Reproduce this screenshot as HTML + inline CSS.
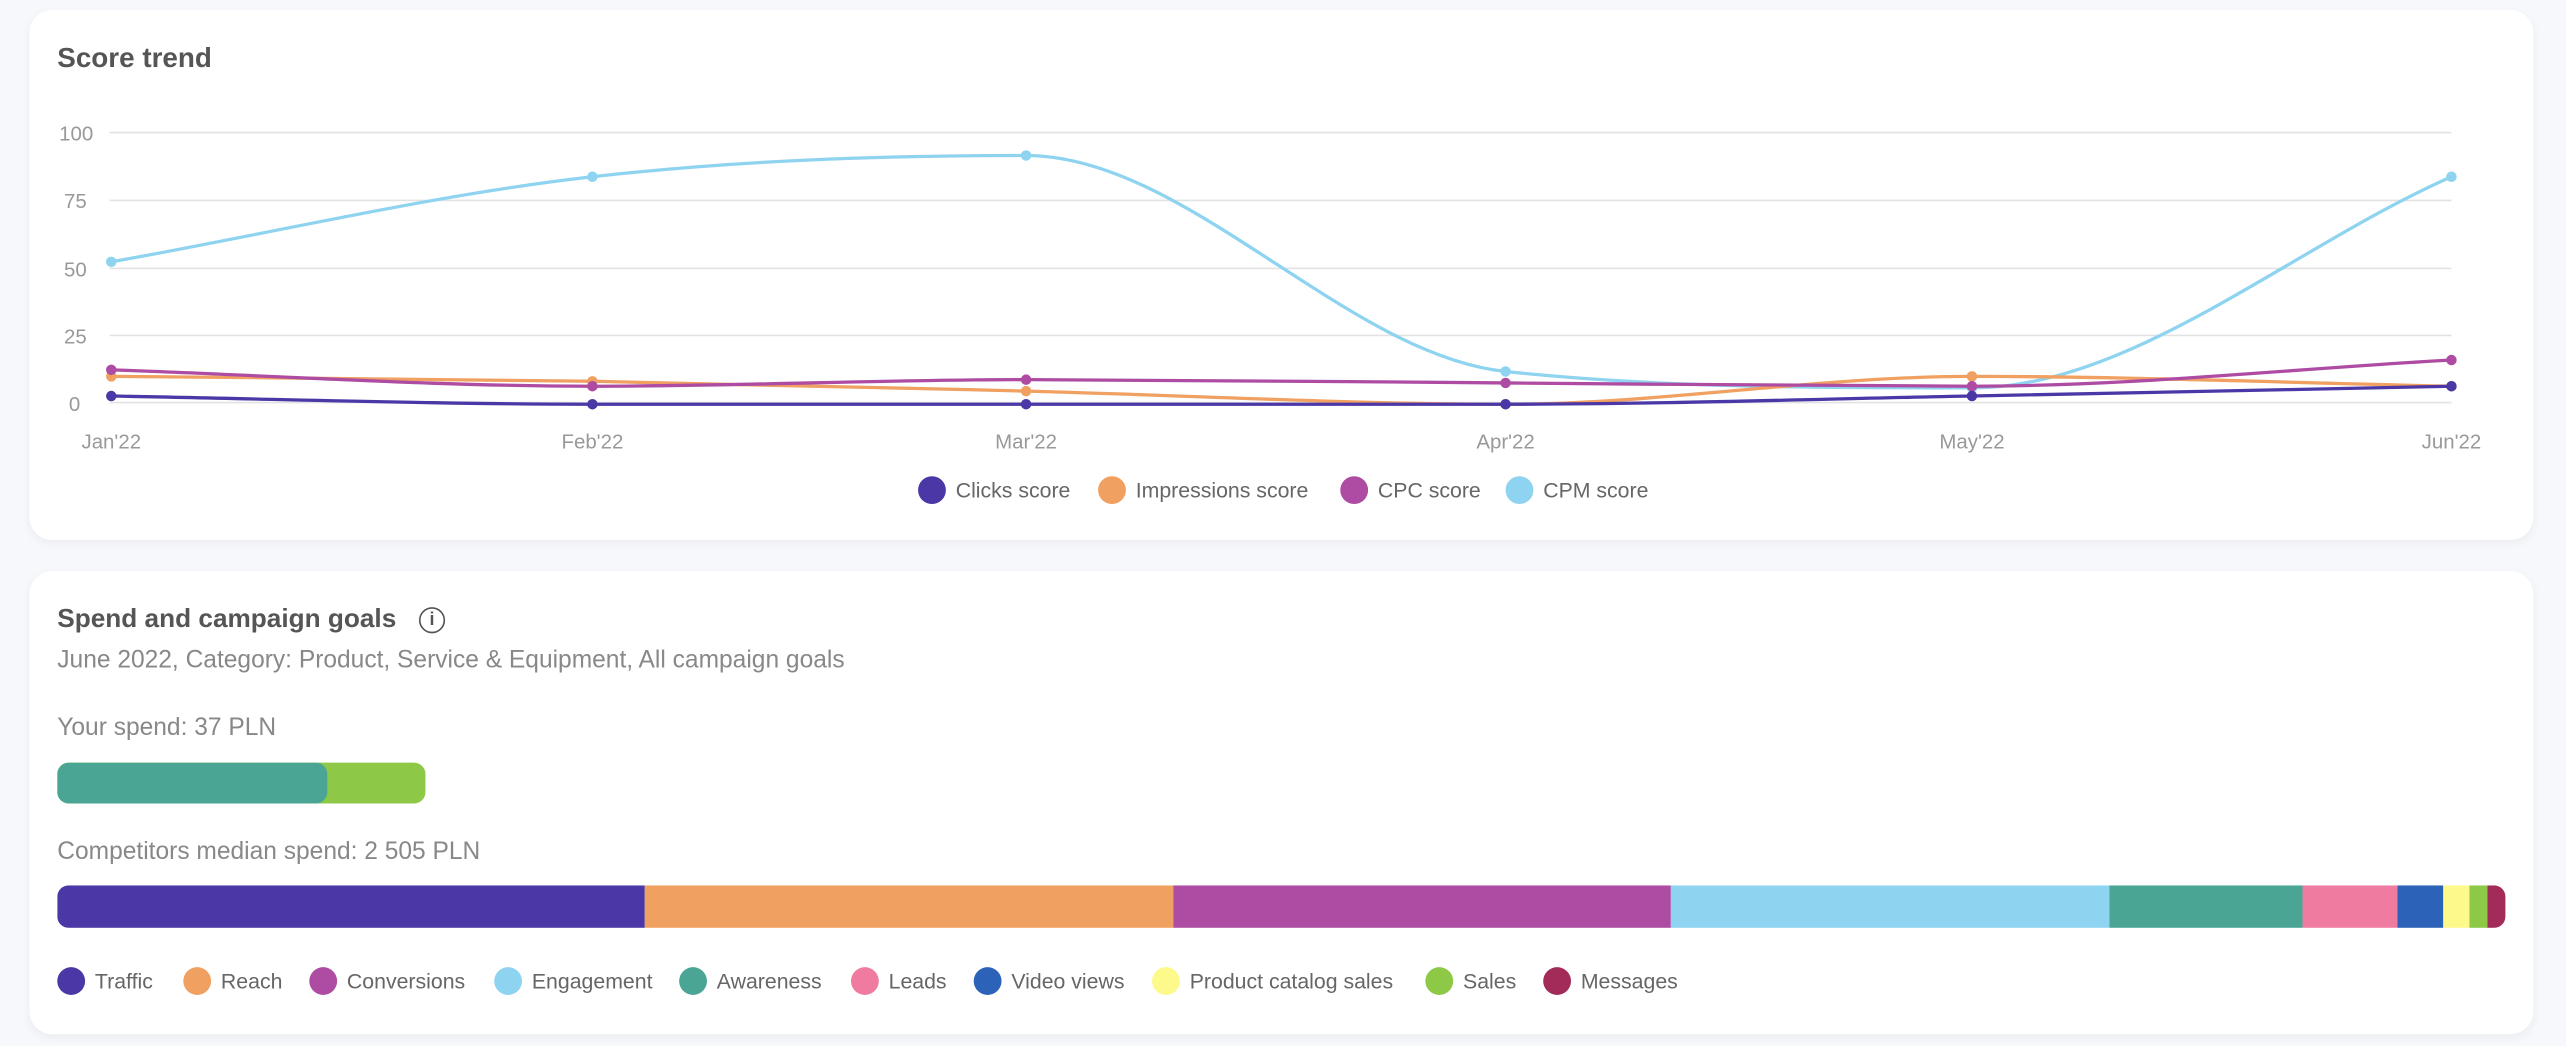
<!DOCTYPE html>
<html><head><meta charset="utf-8"><style>
html,body{margin:0;padding:0;background:#f6f8fc;overflow:hidden}
#w{width:1568px;height:640px;transform:scale(1.63648);transform-origin:0 0;position:relative;font-family:"Liberation Sans",sans-serif}
.card{position:absolute;left:18px;width:1530px;background:#fff;border-radius:14px;box-shadow:0 2px 6px rgba(0,0,0,0.05)}
.t{position:absolute;white-space:nowrap}
.d{position:absolute;width:17px;height:17px;border-radius:50%}
.l{position:absolute;font-size:13px;color:#666;white-space:nowrap}
</style></head><body><div id="w">
<div class="card" style="top:6px;height:324px"></div>
<div class="card" style="top:349px;height:283px"></div>
<div class="t" style="left:35px;top:26px;font-size:17px;color:#555;font-weight:bold">Score trend</div>
<svg style="position:absolute;left:0;top:0" width="1568" height="330" id="sv">
<g stroke="#e2e2e2" stroke-width="1">
<line x1="67" x2="1498" y1="81" y2="81"/><line x1="67" x2="1498" y1="122.5" y2="122.5"/><line x1="67" x2="1498" y1="164" y2="164"/><line x1="67" x2="1498" y1="205" y2="205"/><line x1="67" x2="1498" y1="246" y2="246"/></g>
<g font-size="12.5" fill="#999" text-anchor="end" font-family="Liberation Sans">
<text x="57" y="86">100</text><text x="53" y="127">75</text><text x="53" y="169">50</text><text x="53" y="210">25</text><text x="49" y="251">0</text></g>
<g font-size="12.5" fill="#999" text-anchor="middle" font-family="Liberation Sans">
<text x="68" y="274">Jan'22</text><text x="362" y="274">Feb'22</text><text x="627" y="274">Mar'22</text><text x="920" y="274">Apr'22</text><text x="1205" y="274">May'22</text><text x="1498" y="274">Jun'22</text></g>
</svg>
<div class="d" style="left:561px;top:291px;background:#4b38a6"></div><div class="l" style="left:584px;top:292px">Clicks score</div>
<div class="d" style="left:671px;top:291px;background:#f0a060"></div><div class="l" style="left:694px;top:292px">Impressions score</div>
<div class="d" style="left:819px;top:291px;background:#ad4ca2"></div><div class="l" style="left:842px;top:292px">CPC score</div>
<div class="d" style="left:920px;top:291px;background:#8ed3f0"></div><div class="l" style="left:943px;top:292px">CPM score</div>

<div class="t" style="left:35px;top:370px;font-size:16px;color:#555;font-weight:bold">Spend and campaign goals</div>
<div style="position:absolute;left:256px;top:371px;width:14px;height:14px;border:1.7px solid #555;border-radius:50%;font-size:11px;line-height:14px;text-align:center;color:#555;font-weight:bold">i</div>
<div class="t" style="left:35px;top:395px;font-size:15px;color:#888">June 2022, Category: Product, Service &amp; Equipment, All campaign goals</div>
<div class="t" style="left:35px;top:436px;font-size:15px;color:#888">Your spend: 37 PLN</div>
<div style="position:absolute;left:35px;top:466px;width:225px;height:25px;border-radius:7px;overflow:hidden;background:#8dc947"><div style="width:165px;height:25px;background:#4aa595;border-radius:0 7px 7px 0"></div></div>
<div class="t" style="left:35px;top:512px;font-size:15px;color:#888">Competitors median spend: 2 505 PLN</div>
<div style="position:absolute;left:35px;top:541px;width:1496px;height:26px;border-radius:7px;overflow:hidden;display:flex">
<div style="width:359px;background:#4b38a6"></div><div style="width:323px;background:#f0a060"></div><div style="width:304px;background:#ad4ca2"></div><div style="width:268px;background:#8ed3f0"></div><div style="width:118px;background:#4aa595"></div><div style="width:58px;background:#ef7ca0"></div><div style="width:28px;background:#2c62b8"></div><div style="width:16px;background:#fdf98a"></div><div style="width:11px;background:#8dc947"></div><div style="width:11px;background:#a32b5a"></div></div>
<div class="d" style="left:35px;top:591px;background:#4b38a6"></div><div class="l" style="left:58px;top:592px">Traffic</div>
<div class="d" style="left:112px;top:591px;background:#f0a060"></div><div class="l" style="left:135px;top:592px">Reach</div>
<div class="d" style="left:189px;top:591px;background:#ad4ca2"></div><div class="l" style="left:212px;top:592px">Conversions</div>
<div class="d" style="left:302px;top:591px;background:#8ed3f0"></div><div class="l" style="left:325px;top:592px">Engagement</div>
<div class="d" style="left:415px;top:591px;background:#4aa595"></div><div class="l" style="left:438px;top:592px">Awareness</div>
<div class="d" style="left:520px;top:591px;background:#ef7ca0"></div><div class="l" style="left:543px;top:592px">Leads</div>
<div class="d" style="left:595px;top:591px;background:#2c62b8"></div><div class="l" style="left:618px;top:592px">Video views</div>
<div class="d" style="left:704px;top:591px;background:#fdf98a"></div><div class="l" style="left:727px;top:592px">Product catalog sales</div>
<div class="d" style="left:871px;top:591px;background:#8dc947"></div><div class="l" style="left:894px;top:592px">Sales</div>
<div class="d" style="left:943px;top:591px;background:#a32b5a"></div><div class="l" style="left:966px;top:592px">Messages</div>
</div>
<script>
var X=[68,362,627,920,1205,1498];
var S=[["#8ed3f0",[160,108,95,227,237,108]],["#f0a060",[230,233,239,247,230,236]],["#ad4ca2",[226,236,232,234,236,220]],["#4b38a6",[242,247,247,247,242,236]]];
function mono(xs,ys){var n=xs.length,d=[],m=[];for(var i=0;i<n-1;i++)d.push((ys[i+1]-ys[i])/(xs[i+1]-xs[i]));
m[0]=d[0];m[n-1]=d[n-2];for(i=1;i<n-1;i++){m[i]=(d[i-1]*d[i]<=0)?0:(d[i-1]+d[i])/2;}
for(i=0;i<n-1;i++){if(d[i]==0){m[i]=0;m[i+1]=0;continue;}var a=m[i]/d[i],b=m[i+1]/d[i],s=a*a+b*b;if(s>9){var t=3/Math.sqrt(s);m[i]=t*a*d[i];m[i+1]=t*b*d[i];}}
var p="M"+xs[0]+","+ys[0];for(i=0;i<n-1;i++){var h=(xs[i+1]-xs[i])/3;p+=" C"+(xs[i]+h)+","+(ys[i]+m[i]*h)+" "+(xs[i+1]-h)+","+(ys[i+1]-m[i+1]*h)+" "+xs[i+1]+","+ys[i+1];}return p;}
var sv=document.getElementById("sv"),h="";
S.forEach(function(s){h+='<path d="'+mono(X,s[1])+'" fill="none" stroke="'+s[0]+'" stroke-width="2"/>';s[1].forEach(function(y,i){h+='<circle cx="'+X[i]+'" cy="'+y+'" r="3.2" fill="'+s[0]+'"/>';});});
sv.insertAdjacentHTML("beforeend",h);
</script>
</body></html>
